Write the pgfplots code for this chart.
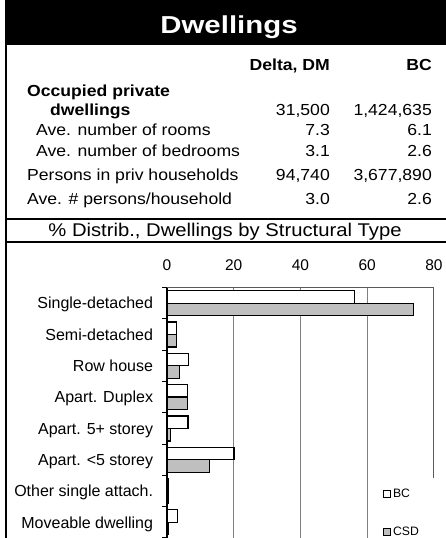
\documentclass[border=0pt]{standalone}
\usepackage{pgfplots}
\pgfplotsset{compat=1.18}
\usepackage{fontspec}
\setmainfont{Liberation Sans}
\newfontfamily\wide{Liberation Sans}[FakeStretch=1.2]
\newfontfamily\midw{Liberation Sans}[FakeStretch=1.1]
\newcommand{\fs}[1]{\fontsize{#1}{#1}\selectfont}
\pgfplotsset{sqleg/.style={legend image code/.code={%
    \draw[##1,/tikz/.cd,line width=0.9pt] (0pt,-3.6pt) rectangle (7pt,3.6pt);}}}

\begin{document}
\begin{tikzpicture}[x=1pt,y=1pt]
\useasboundingbox (0,0) rectangle (446,-538);
\clip (0,0) rectangle (446,-538);

% frame and title band
\fill[black] (5,0) rectangle (446,-45);
\draw[line width=2pt] (6,0) -- (6,-538);
\draw[line width=2pt] (6,-219) -- (446,-219);
\draw[line width=2pt] (6,-242) -- (446,-242);
\node[white, anchor=base, inner sep=0] at (229,-33.5) {\wide\fs{24.5}\bfseries Dwellings};

% summary table
\begin{scope}[every node/.style={inner sep=0, font=\midw\fs{16}}]
\node[anchor=base east] at (330,-70) {\bfseries Delta, DM};
\node[anchor=base east] at (432,-70) {\bfseries BC};
\node[anchor=base west] at (27,-96) {\bfseries Occupied private};
\node[anchor=base west] at (50,-115.7) {\bfseries dwellings};
\node[anchor=base east] at (330,-115.7) {31,500};
\node[anchor=base east] at (432,-115.7) {1,424,635};
\node[anchor=base west] at (36,-135.7) {Ave. number of rooms};
\node[anchor=base east] at (330,-135.7) {7.3};
\node[anchor=base east] at (432,-135.7) {6.1};
\node[anchor=base west] at (36,-156) {Ave. number of bedrooms};
\node[anchor=base east] at (330,-156) {3.1};
\node[anchor=base east] at (432,-156) {2.6};
\node[anchor=base west] at (27,-180) {Persons in priv households};
\node[anchor=base east] at (330,-180) {94,740};
\node[anchor=base east] at (432,-180) {3,677,890};
\node[anchor=base west] at (27,-204) {Ave. \# persons/household};
\node[anchor=base east] at (330,-204) {3.0};
\node[anchor=base east] at (432,-204) {2.6};
\node[anchor=base, font=\midw\fs{18.4}] at (225,-236.5) {\% Distrib., Dwellings by Structural Type};
\end{scope}

\begin{axis}[
    at={(167pt,-287.5pt)}, anchor=north west,
    scale only axis, width=267pt, height=250.5pt,
    xbar, bar width=12.5pt,
    xmin=0, xmax=80, ymin=-0.5, ymax=7.5,
    clip=false,
    axis line style={draw=none},
    /pgf/number format/assume math mode=true,
    xtick={0,20,40,60,80}, xtick pos=upper, xticklabel pos=upper,
    x tick style={draw=none},
    xticklabel style={anchor=base, yshift=17.5pt, font=\fs{15.5}},
    ytick={0,...,7}, ytick pos=left,
    yticklabels={Moveable dwelling, Other single attach., Apart. <5 storey,
        Apart. 5+ storey, Apart. Duplex, Row house, Semi-detached, Single-detached},
    y tick style={draw=none},
    yticklabel style={anchor=base east, inner sep=0pt, xshift=-9.5pt, yshift=-5.8pt, font=\fs{16}},
    extra y ticks={-0.5,0.5,...,7.5}, extra y tick labels={},
    extra y tick style={tick align=outside, major tick length=5pt,
        y tick style={draw=black, line width=1pt}},
    extra x ticks={20,40,60}, extra x tick labels={},
    extra x tick style={grid=major, major grid style={gray, line width=1pt}},
    legend style={at={(0.809,0.2036)}, anchor=north west, draw=none, fill=none,
        inner sep=0pt, row sep=24pt, font=\fs{12.2}},
    legend cell align=left,
]
\addplot[fill=white, draw=black, line width=1.2pt, bar shift=6.25pt, sqleg]
coordinates {
(56.3,7)
(2.9,6)
(6.4,5)
(6.1,4)
(6.3,3)
(20.1,2)
(0.4,1)
(3.2,0)
};
\addplot[fill=black!25, draw=black, line width=1.2pt, bar shift=-6.25pt, sqleg]
coordinates {
(73.8,7)
(2.9,6)
(3.7,5)
(6.1,4)
(1.1,3)
(12.8,2)
(0.5,1)
(0.4,0)
};
\legend{BC, CSD}
\draw[gray!70!black, line width=1pt] (rel axis cs:0,1) -- (rel axis cs:1,1) -- (rel axis cs:1,0.2395);
\draw[black, line width=1.5pt] (rel axis cs:0,0) -- (rel axis cs:0,1);
\end{axis}
\end{tikzpicture}
\end{document}
